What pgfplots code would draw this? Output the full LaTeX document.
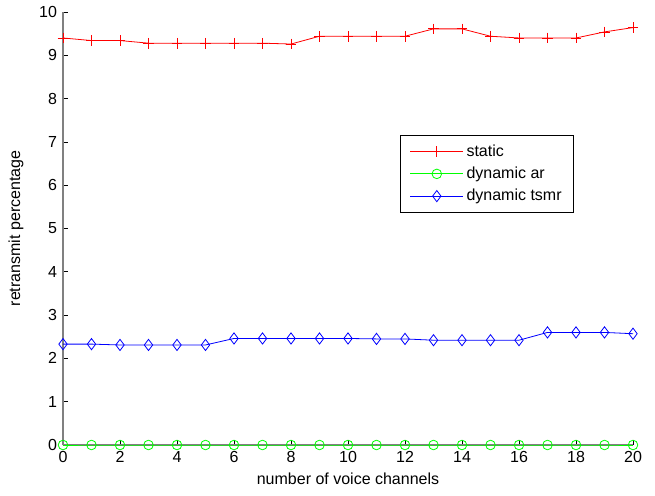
\documentclass[border=0pt]{standalone}
\usepackage{pgfplots}
\pgfplotsset{compat=1.18}
\usepackage{fontspec}
\setmainfont{Liberation Sans}

\pgfplotstableread{
x static dynar dyntsmr
0  9.40 0 2.33
1  9.34 0 2.33
2  9.34 0 2.31
3  9.28 0 2.31
4  9.28 0 2.31
5  9.28 0 2.31
6  9.28 0 2.46
7  9.28 0 2.46
8  9.26 0 2.46
9  9.44 0 2.46
10 9.44 0 2.46
11 9.44 0 2.45
12 9.44 0 2.45
13 9.61 0 2.42
14 9.61 0 2.42
15 9.44 0 2.42
16 9.40 0 2.42
17 9.40 0 2.60
18 9.40 0 2.60
19 9.54 0 2.60
20 9.64 0 2.57
}\datatable

\definecolor{axisgray}{gray}{0.5}

\begin{document}
\begin{tikzpicture}
\begin{axis}[
  name=main,
  scale only axis,
  width=427.5pt, height=324.75pt,
  xmin=0, xmax=20, ymin=0, ymax=10,
  xtick={0,2,...,20}, ytick={0,1,...,10},
  axis x line=bottom, axis y line=left,
  axis line style={line width=0.8pt, axisgray, -},
  tick align=inside,
  major tick length=4pt,
  tick style={line width=0.5pt, black},
  font=\fontsize{12}{14}\selectfont,
  /pgf/number format/assume math mode=true,
  xticklabel style={yshift=-1pt},
  yticklabel style={xshift=-1pt},
  xlabel={number of voice channels},
  ylabel={retransmit percentage},
  xlabel style={yshift=-1pt},
  ylabel style={yshift=5pt},
  legend cell align=left,
  legend image code/.code={%
    \draw[mark repeat=2, mark phase=2] plot coordinates {(0pt,0pt) (20pt,0pt) (40pt,0pt)};},
  legend style={at={(rel axis cs:0.591,0.716)}, anchor=north west,
    draw=black, line width=0.8pt, font=\fontsize{12}{14}\selectfont,
    row sep=2.5pt, inner xsep=7pt, inner ysep=5pt},
]
\addplot[red, line width=0.6pt, mark=+, mark size=4pt] table[x=x, y=static] {\datatable};
\addlegendentry{static}
\addplot[green, line width=0.6pt, mark=o, mark size=3.6pt] table[x=x, y=dynar] {\datatable};
\addlegendentry{dynamic ar}
\addplot[blue, line width=0.6pt, mark=diamond, mark size=4.2pt] table[x=x, y=dyntsmr] {\datatable};
\addlegendentry{dynamic tsmr}
\end{axis}
\pgfresetboundingbox
\path[use as bounding box] ([shift={(-47.25pt,-37.5pt)}]main.south west) rectangle ([shift={(16.5pt,9pt)}]main.north east);
\end{tikzpicture}
\end{document}
